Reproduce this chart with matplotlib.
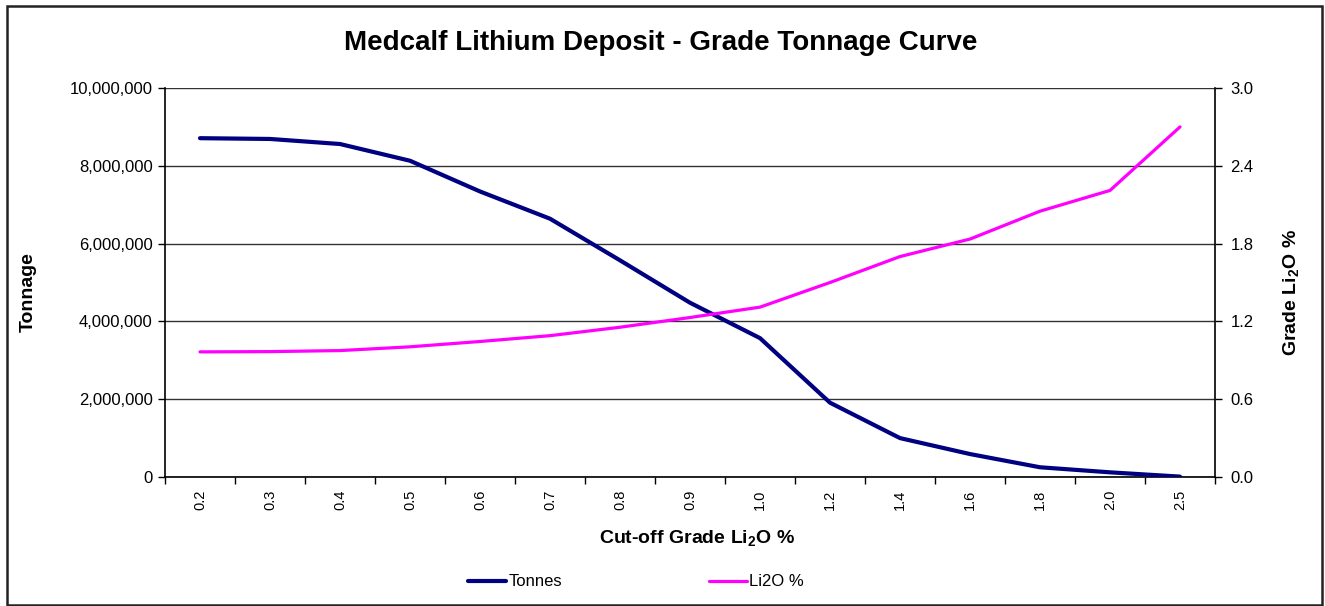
import matplotlib
matplotlib.use("Agg")
import matplotlib.pyplot as plt
from matplotlib.lines import Line2D
from matplotlib.patches import Rectangle
from matplotlib.ticker import FuncFormatter, FixedLocator

plt.rcParams['font.family'] = ['Liberation Sans', 'DejaVu Sans']
plt.rcParams['mathtext.fontset'] = 'custom'
plt.rcParams['mathtext.rm'] = 'Liberation Sans'
plt.rcParams['mathtext.bf'] = 'Liberation Sans:bold'

categories = ['0.2', '0.3', '0.4', '0.5', '0.6', '0.7', '0.8', '0.9', '1.0',
              '1.2', '1.4', '1.6', '1.8', '2.0', '2.5']
tonnes = [8710000, 8690000, 8560000, 8130000, 7340000, 6640000, 5570000, 4480000,
          3570000, 1910000, 1000000, 590000, 250000, 120000, 10000]
grade = [0.965, 0.967, 0.975, 1.004, 1.045, 1.09, 1.155, 1.23, 1.31,
         1.50, 1.70, 1.835, 2.05, 2.21, 2.70]
left_ticks = [0, 2000000, 4000000, 6000000, 8000000, 10000000]
right_ticks = [0.0, 0.6, 1.2, 1.8, 2.4, 3.0]

fig = plt.figure(figsize=(13.25, 6.06), dpi=100)
ax = fig.add_axes([165/1325, 1-477/606, 1050/1325, 389/606])
ax2 = ax.twinx()

x = list(range(len(categories)))
ax.plot(x, tonnes, color='#000080', lw=3.0, solid_capstyle='round', zorder=3)
ax2.plot(x, grade, color='#FF00FF', lw=2.3, solid_capstyle='round', zorder=3)

ax.set_xlim(-0.5, len(categories) - 0.5)
ax.set_ylim(0, 10000000)
ax2.set_ylim(0, 3.0)

ax.set_yticks(left_ticks)
ax.yaxis.set_major_formatter(FuncFormatter(lambda v, p: f"{int(v):,}"))
ax2.set_yticks(right_ticks)
ax2.yaxis.set_major_formatter(FuncFormatter(lambda v, p: f"{v:.1f}"))

ax.set_xticks(x)
ax.set_xticklabels(categories, rotation=90, fontsize=10.5)
ax.xaxis.set_minor_locator(FixedLocator([i - 0.5 for i in range(len(categories) + 1)]))
ax.tick_params(axis='x', which='major', length=0, pad=9)
ax.tick_params(axis='x', which='minor', length=5, width=1, direction='out')
ax.tick_params(axis='y', length=5, width=1, direction='out', labelsize=12, pad=4)
ax2.tick_params(axis='y', length=5, width=1, direction='out', labelsize=12, pad=6)

ax.grid(axis='y', color='#333333', lw=1.0)
ax.set_axisbelow(True)
for s in ['top']:
    ax.spines[s].set_visible(False)
    ax2.spines[s].set_visible(False)
ax2.spines['left'].set_visible(False)
ax.spines['right'].set_visible(False)
for s in ['left', 'bottom']:
    ax.spines[s].set_linewidth(1.2)
ax2.spines['right'].set_linewidth(1.2)
ax2.spines['bottom'].set_visible(False)

fig.text(661/1325, 1-43/606, 'Medcalf Lithium Deposit - Grade Tonnage Curve',
         ha='center', va='center', fontsize=20, fontweight='bold')
fig.text(28/1325, 1-292/606, 'Tonnage', rotation=90, ha='center', va='center',
         fontsize=14, fontweight='bold')
fig.text(1292/1325, 1-293/606, r'Grade Li$_\mathbf{2}$O %', rotation=90, ha='center',
         va='center', fontsize=14, fontweight='bold')
fig.text(697/1325, 1-539/606, r'Cut-off Grade Li$_\mathbf{2}$O %', ha='center',
         va='center', fontsize=14, fontweight='bold')

handles = [Line2D([], [], color='#000080', lw=3.0, solid_capstyle='round'),
           Line2D([], [], color='#FF00FF', lw=2.3, solid_capstyle='round')]
fig.legend(handles, ['Tonnes', 'Li2O %'], loc='center left',
           bbox_to_anchor=(453/1325, 1-582/606), ncol=2, frameon=False,
           fontsize=12, handlelength=2.3, handletextpad=0.12, columnspacing=8.8)

fig.patches.append(Rectangle((7/1325, 1/606), 1315/1325, 599/606, transform=fig.transFigure,
                             fill=False, edgecolor='#222222', lw=1.8))

fig.savefig('out.png', dpi=100)
